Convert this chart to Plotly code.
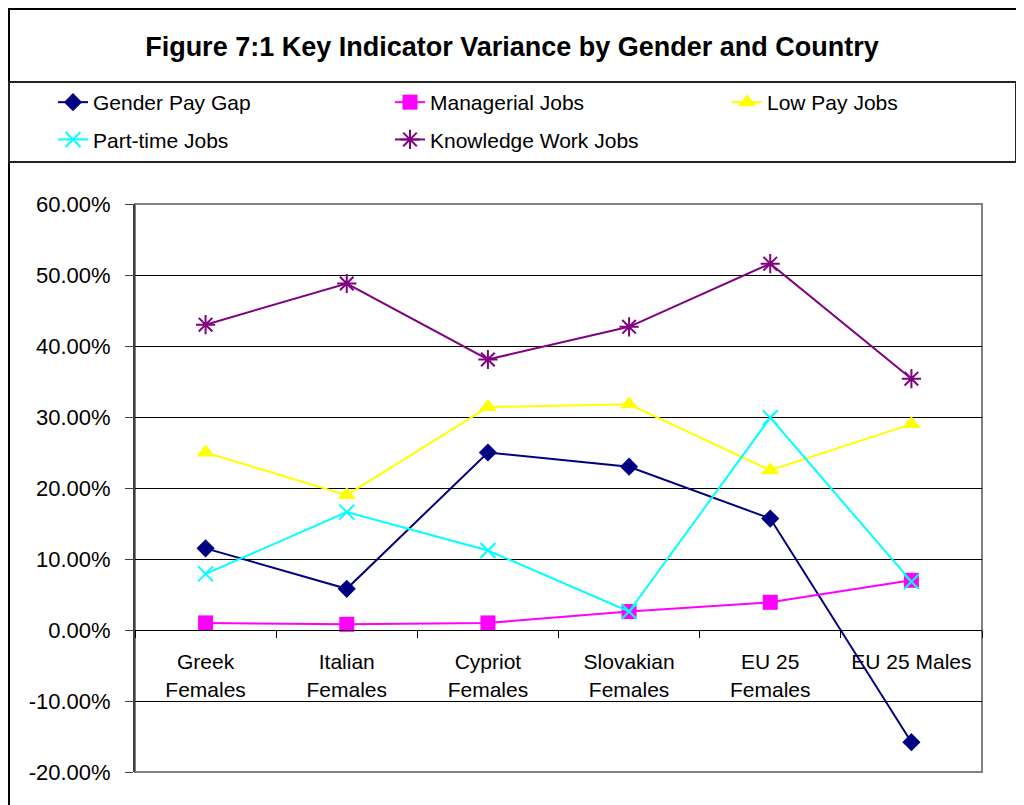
import plotly.graph_objects as go

categories = ["Greek<br>Females", "Italian<br>Females", "Cypriot<br>Females",
              "Slovakian<br>Females", "EU 25<br>Females", "EU 25 Males"]
gender_pay_gap = [0.115, 0.058, 0.250, 0.230, 0.157, -0.158]
managerial_jobs = [0.010, 0.008, 0.010, 0.026, 0.039, 0.070]
low_pay_jobs = [0.250, 0.190, 0.314, 0.318, 0.225, 0.290]
part_time_jobs = [0.079, 0.166, 0.112, 0.026, 0.299, 0.068]
knowledge_work_jobs = [0.430, 0.488, 0.381, 0.427, 0.516, 0.354]
y_ticks = [-0.2, -0.1, 0.0, 0.1, 0.2, 0.3, 0.4, 0.5, 0.6]
y_tick_labels = [f"{v * 100:.2f}%" for v in y_ticks]

FONT = "Arial, 'Liberation Sans', sans-serif"
OFF = 8  # page body margin
W, H = 1024 - OFF, 805 - OFF
ML = 135 - OFF
MT = 204 - OFF
MR = W - (982 - OFF)
MB = H - (772 - OFF)
PW, PH = W - ML - MR, H - MT - MB


def px(x):
    return (x - OFF - ML) / PW


def py(y):
    return (H - MB - (y - OFF)) / PH


series = [
    ("Gender Pay Gap", gender_pay_gap, "#000080", dict(symbol="diamond", size=14), "legend", "g1"),
    ("Managerial Jobs", managerial_jobs, "#FF00FF", dict(symbol="square", size=15), "legend2", "g2"),
    ("Low Pay Jobs", low_pay_jobs, "#FFFF00", dict(symbol="triangle-up", size=16), "legend3", "g3"),
    ("Part-time Jobs", part_time_jobs, "#00FFFF", dict(symbol="x-thin", size=15), "legend", "g4"),
    ("Knowledge Work Jobs", knowledge_work_jobs, "#800080", dict(symbol="asterisk", size=16), "legend2", "g5"),
]

fig = go.Figure()
for name, vals, color, mk, leg, grp in series:
    marker = dict(color=color, **mk)
    if mk["symbol"] in ("x-thin", "asterisk"):
        marker["line"] = dict(color=color, width=2)
    fig.add_trace(go.Scatter(
        x=categories, y=vals, name=name, mode="lines+markers",
        line=dict(color=color, width=2), marker=marker,
        legend=leg, legendgroup=grp,
    ))

leg_common = dict(
    orientation="v", yanchor="top", xanchor="left",
    font=dict(family=FONT, size=21, color="black"),
    bgcolor="rgba(0,0,0,0)", borderwidth=0, tracegroupgap=7,
)
legend_top = py(82)

fig.update_layout(
    width=W, height=H,
    margin=dict(l=ML, r=MR, t=MT, b=MB, autoexpand=False),
    paper_bgcolor="white", plot_bgcolor="white",
    font=dict(family=FONT, color="black"),
    title=dict(text="<b>Figure 7:1 Key Indicator Variance by Gender and Country</b>",
               font=dict(family=FONT, size=27, color="black"),
               x=(512 - OFF) / W, xref="container", xanchor="center",
               y=1 - (47 - OFF) / H, yref="container", yanchor="middle"),
    legend=dict(x=px(53), y=legend_top, **leg_common),
    legend2=dict(x=px(390), y=legend_top, **leg_common),
    legend3=dict(x=px(727), y=legend_top, **leg_common),
    showlegend=True,
    xaxis=dict(
        type="category", anchor="free", position=0.25,
        range=[-0.5, len(categories) - 0.5],
        showline=True, linecolor="black", linewidth=1,
        ticks="outside", tickson="boundaries", ticklen=7, tickcolor="black", tickwidth=1,
        showgrid=False, zeroline=False, ticklabelstandoff=13,
        tickfont=dict(family=FONT, size=21, color="black"),
    ),
    yaxis=dict(
        range=[-0.2, 0.6], tickvals=y_ticks, ticktext=y_tick_labels,
        showgrid=True, gridcolor="black", gridwidth=1,
        showline=True, linecolor="#404040", linewidth=2,
        ticks="outside", ticklen=8, tickcolor="#404040", tickwidth=1,
        zeroline=False, ticklabelstandoff=10,
        tickfont=dict(family=FONT, size=22, color="black"),
    ),
    shapes=[
        # chart outer border
        dict(type="rect", xref="paper", yref="paper",
             x0=px(9), x1=px(1040), y0=py(830), y1=py(9),
             line=dict(color="black", width=2), layer="below"),
        # legend box
        dict(type="rect", xref="paper", yref="paper",
             x0=px(9), x1=px(1016), y0=py(162), y1=py(82),
             line=dict(color="#222222", width=2), layer="below"),
        # plot area border
        dict(type="rect", xref="paper", yref="paper",
             x0=0, x1=1, y0=0, y1=1,
             line=dict(color="#808080", width=2), layer="between"),
    ],
)

fig.write_html("out.html")
